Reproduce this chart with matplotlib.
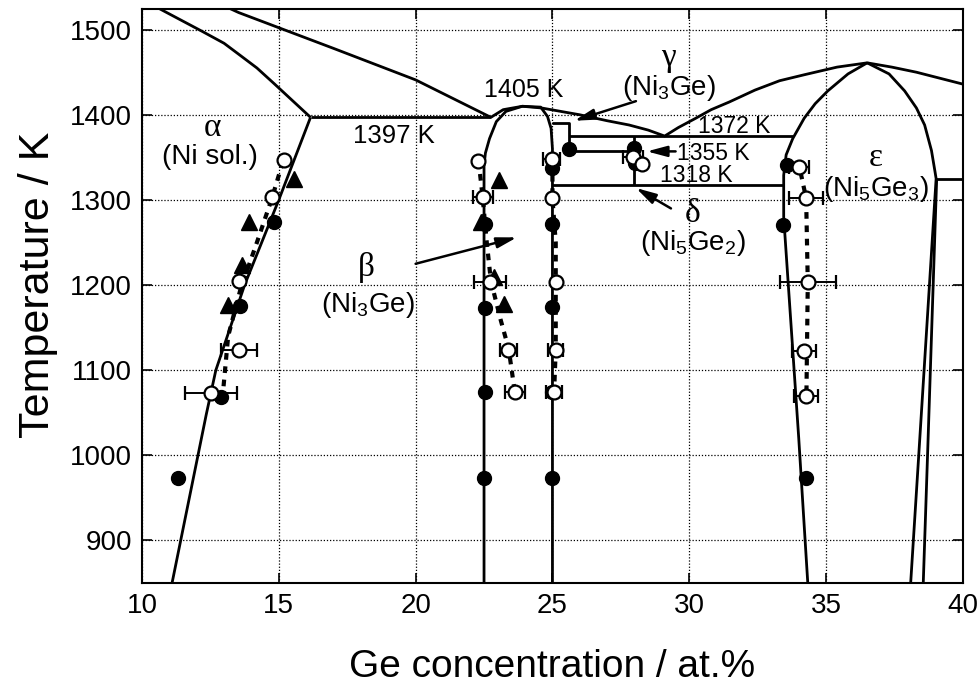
import numpy as np
import matplotlib
matplotlib.use("Agg")
import matplotlib.pyplot as plt

plt.rcParams.update({"font.family": ["Liberation Sans", "DejaVu Sans"],
                     "mathtext.default": "regular"})

# ---- phase boundaries (Ge at.%, K) ----
liq_a_x = [10.5, 10.91, 12.2, 13.0, 13.54, 14.2, 14.85, 16.16]
liq_a_t = [1527, 1520, 1498, 1484, 1471, 1455, 1436, 1397]
liq_b_x = [13.2, 13.54, 17.0, 20.0, 22.75]
liq_b_t = [1525, 1520, 1478, 1441, 1397]
liq_c_x = [22.75, 23.2, 23.9, 24.6, 25.3, 26.0, 27.0, 27.8, 28.5, 29.1,
           29.6, 30.24, 30.8, 31.46, 32.4, 33.3, 34.2, 35.4, 36.5,
           37.4, 38.3, 40.0]
liq_c_t = [1397, 1406, 1410, 1408, 1404, 1400, 1393, 1388, 1382, 1375,
           1385, 1396, 1406, 1415, 1429, 1440, 1447, 1456, 1461,
           1456, 1450, 1436]
eut_x = [16.16, 22.75]            # 1397 K
eut_t = [1397, 1397]
alpha_x = [16.16, 15.0, 13.75, 12.7, 12.35, 11.1]
alpha_t = [1397, 1300, 1200, 1100, 1048, 850]
beta_l_x = [23.9, 23.3, 22.95, 22.7, 22.55, 22.5, 22.5]
beta_l_t = [1410, 1404, 1392, 1372, 1355, 1340, 850]
beta_r_x = [23.9, 24.57, 24.82, 24.95, 25.0, 25.0]
beta_r_t = [1410, 1409, 1398, 1384, 1360, 850]
gam_x = [25.0, 25.62, 25.62]
gam_t = [1390, 1390, 1358]
h1372_x = [25.62, 33.78]
h1372_t = [1375, 1375]
h1355_x = [25.62, 27.99]
h1355_t = [1358, 1358]
h1318_x = [24.99, 33.43]
h1318_t = [1318, 1318]
delta_x = [27.99, 27.99]
delta_t = [1375, 1318]
eps_l_x = [36.5, 35.8, 35.06, 34.6, 34.2, 33.78, 33.54, 33.45, 33.45, 34.0, 34.33]
eps_l_t = [1461, 1448, 1428, 1413, 1396, 1372, 1353, 1329, 1280, 1020, 850]
eps_r_x = [36.5, 37.3, 37.87, 38.3, 38.6, 38.85, 38.98, 39.02, 38.41, 38.09]
eps_r_t = [1461, 1448, 1428, 1408, 1388, 1358, 1333, 1325, 1013, 850]
eps_r2_x = [39.04, 38.72, 38.55]
eps_r2_t = [1325, 1013, 850]
h1325_x = [39.02, 40.0]
h1325_t = [1325, 1325]

# ---- measured points ----
fill_x = [14.82, 13.6, 12.89, 11.3, 22.55, 22.54, 22.54, 22.5,
          25.0, 25.0, 25.0, 25.0, 25.0, 25.62, 27.99, 28.0,
          33.57, 33.41, 34.28]
fill_t = [1274, 1175, 1069, 973, 1272, 1173, 1074, 973,
          1338, 1272, 1174, 1074, 973, 1360, 1361, 1343,
          1341, 1270, 973]
tri_x = [15.54, 13.92, 13.67, 13.16, 23.04, 22.4, 22.86, 23.24]
tri_t = [1324, 1274, 1224, 1177, 1323, 1274, 1209, 1178]
open_x = [15.18, 14.76, 13.55, 22.29, 25.0, 25.12, 28.29]
open_t = [1347, 1304, 1205, 1346, 1302, 1204, 1342]
err_x = [13.55, 12.53, 22.46, 22.71, 23.39, 23.63, 24.97, 25.12, 25.06,
         27.93, 34.02, 34.27, 34.35, 34.2, 34.27]
err_t = [1124, 1073, 1303, 1204, 1124, 1074, 1348, 1124, 1074,
         1350, 1339, 1302, 1203, 1122, 1070]
err_dx = [0.65, 0.95, 0.36, 0.58, 0.3, 0.36, 0.3, 0.28, 0.28,
          0.37, 0.37, 0.61, 1.02, 0.43, 0.45]

# dashed fits through open-circle data
fitA_x = [15.15, 14.75, 14.2, 13.6, 13.15, 12.95]
fitA_t = [1345, 1302, 1250, 1195, 1140, 1070]
fitB_x = [22.3, 22.45, 22.6, 22.75, 23.1, 23.4, 23.6]
fitB_t = [1346, 1303, 1250, 1205, 1160, 1125, 1080]
fitC_x = [25.0, 25.0, 25.12, 25.12, 25.12, 25.06]
fitC_t = [1345, 1302, 1250, 1204, 1124, 1074]
fitD_x = [34.07, 34.27, 34.33, 34.3, 34.28]
fitD_t = [1332, 1302, 1203, 1122, 1070]

fig = plt.figure(figsize=(9.79, 6.93), dpi=100)
ax = fig.add_axes([0.1450, 0.1587, 0.8386, 0.8280])

lk = dict(color="k", lw=2.0, zorder=3, solid_capstyle="butt")
for xs, ts in [(liq_a_x, liq_a_t), (liq_b_x, liq_b_t), (liq_c_x, liq_c_t),
               (eut_x, eut_t), (alpha_x, alpha_t), (beta_l_x, beta_l_t),
               (beta_r_x, beta_r_t), (gam_x, gam_t), (h1372_x, h1372_t),
               (h1355_x, h1355_t), (h1318_x, h1318_t), (delta_x, delta_t),
               (eps_l_x, eps_l_t), (eps_r_x, eps_r_t), (eps_r2_x, eps_r2_t),
               (h1325_x, h1325_t)]:
    ax.plot(xs, ts, **lk)

for xs, ts in [(fitA_x, fitA_t), (fitB_x, fitB_t), (fitC_x, fitC_t), (fitD_x, fitD_t)]:
    ax.plot(xs, ts, color="k", lw=3.0, ls=(0, (1.6, 1.6)), zorder=4)

ax.errorbar(err_x, err_t, xerr=err_dx, fmt="o", ms=10, mfc="white", mec="k",
            mew=1.6, ecolor="k", elinewidth=1.4, capsize=5, capthick=1.4, zorder=6)
ax.plot(fill_x, fill_t, "o", ms=10, color="k", zorder=5)
ax.plot(tri_x, tri_t, "^", ms=11, color="k", zorder=5)
ax.plot(open_x, open_t, "o", ms=10, mfc="white", mec="k", mew=1.6, zorder=7)

# labels
greek = dict(family=["Liberation Serif", "DejaVu Serif"], fontsize=24, ha="center", va="center")
txt = dict(fontsize=20, ha="center", va="center")
small = dict(fontsize=16.5, ha="center", va="center")
ax.text(12.56, 1385, "α", **greek)
ax.text(12.5, 1350, "(Ni sol.)", **txt)
ax.text(19.2, 1375, "1397 K", fontsize=18.5, ha="center", va="center")
ax.text(23.96, 1429, "1405 K", fontsize=18, ha="center", va="center")
ax.text(29.23, 1467, "γ", **greek)
ax.text(29.27, 1432, "(Ni$_3$Ge)", **txt)
ax.text(31.65, 1386, "1372 K", **small)
ax.text(30.88, 1354, "1355 K", **small)
ax.text(30.27, 1329, "1318 K", **small)
ax.text(30.12, 1284, "δ", **greek)
ax.text(30.12, 1249, "(Ni$_5$Ge$_2$)", **txt)
ax.text(18.19, 1221, "β", **greek)
ax.text(18.25, 1177, "(Ni$_3$Ge)", **txt)
ax.text(36.83, 1350, "ε", **greek)
ax.text(36.83, 1313, "(Ni$_5$Ge$_3$)", **txt)

arw = dict(arrowstyle="-|>,head_length=0.6,head_width=0.16", color="k", lw=1.8,
           mutation_scale=20, shrinkA=0, shrinkB=0)
for (x0, t0), (x1, t1) in [((20.0, 1225), (23.7, 1256)),
                           ((28.05, 1416), (25.8, 1393)),
                           ((29.5, 1357), (28.45, 1357)),
                           ((29.33, 1290), (28.05, 1314))]:
    ax.annotate("", xy=(x1, t1), xytext=(x0, t0), arrowprops=arw, zorder=8)

ax.set_xlim(10, 40)
ax.set_ylim(850, 1524)
ax.set_xticks([10, 15, 20, 25, 30, 35, 40])
ax.set_yticks([900, 1000, 1100, 1200, 1300, 1400, 1500])
ax.grid(True, color="k", lw=0.9, ls=(0, (1, 1.5)))
ax.tick_params(direction="in", length=7, width=1.2, top=True, right=True,
               labelsize=20, pad=7)
for s in ax.spines.values():
    s.set_linewidth(1.5)
ax.set_xlabel("Ge concentration / at.%", fontsize=28, labelpad=22)
ax.set_ylabel("Temperature / K", fontsize=31, labelpad=10)
ax.yaxis.set_label_coords(-0.102, 0.52)

fig.savefig("out.png", dpi=100)
